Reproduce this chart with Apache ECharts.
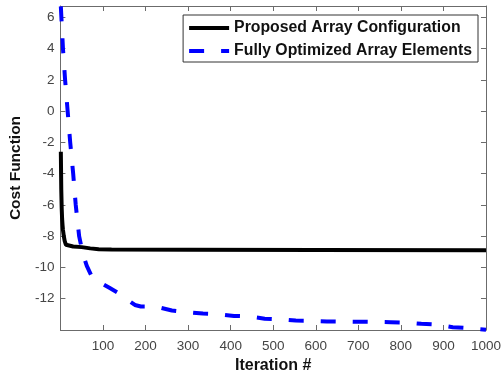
<!DOCTYPE html>
<html>
<head>
<meta charset="utf-8">
<script src="https://cdn.jsdelivr.net/npm/echarts@6/dist/echarts.min.js"></script>
<style>
  html, body { margin: 0; padding: 0; background: #fff; }
  #chart { width: 504px; height: 379px; }
</style>
</head>
<body>
<div id="chart"></div>
<script>
// iteration / cost pairs
var propIter = [1, 2, 3, 4, 5, 6, 8, 10, 13, 16, 30, 50, 70, 90, 120, 300, 600, 1000];
var propCost = [-2.6, -5.0, -6.2, -6.9, -7.3, -7.6, -8.0, -8.3, -8.55, -8.62, -8.66, -8.7, -8.78, -8.83, -8.85, -8.86, -8.88, -8.9];

var fullIter = [1, 6, 11, 17, 23, 30, 36, 44, 51, 56, 62, 74, 93, 99, 115, 134, 154, 175, 189, 224, 262, 296, 335, 369, 408, 443, 480, 517, 553, 590, 626, 662, 701, 733, 776, 810, 848, 883, 922, 957, 1000];
var fullCost = [6.7, 4.0, 2.0, 0, -2, -4, -6, -8, -8.9, -9.4, -9.9, -10.6, -11.0, -11.05, -11.3, -11.6, -12.0, -12.4, -12.5, -12.5, -12.75, -12.85, -12.95, -12.98, -13.1, -13.13, -13.28, -13.32, -13.4, -13.42, -13.45, -13.46, -13.47, -13.48, -13.5, -13.52, -13.6, -13.65, -13.82, -13.88, -13.98];

var seriesNames = ['Proposed Array Configuration', 'Fully Optimized Array Elements'];

function pairs(xs, ys){
    var out = [];
    for(var i = 0; i < xs.length; i++){
        out.push([xs[i], ys[i]]);
    }
    return out;
}

var font = 'Liberation Sans, Arial, Helvetica, sans-serif';
var axisCol = '#6b6b6b';
var labelCol = '#444';

var chart = echarts.init(document.getElementById('chart'), null, {renderer: 'canvas'});

var option = {
  animation: false,
  backgroundColor: '#fff',
  grid: { left: 55, right: 15, top: 6, bottom: 45 },
  legend: {
    orient: 'vertical',
    right: 26,
    top: 15,
    itemWidth: 40,
    itemHeight: 14,
    itemGap: 7,
    padding: [5, 6, 3, 4],
    borderColor: '#333',
    borderWidth: 1,
    backgroundColor: '#fff',
    itemStyle: { opacity: 0 },
    lineStyle: { width: 4 },
    textStyle: { fontFamily: font, fontWeight: 'bold', fontSize: 15.8, color: '#111' },
    data: seriesNames
  },
  xAxis: [
    {
      type: 'value', min: 0, max: 1000, interval: 100,
      name: 'Iteration #', nameLocation: 'middle', nameGap: 28,
      nameTextStyle: { fontFamily: font, fontWeight: 'bold', fontSize: 16, color: '#111' },
      axisLine: { onZero: false, lineStyle: { color: axisCol, width: 1 } },
      axisTick: { inside: true, length: 5, lineStyle: { color: axisCol } },
      axisLabel: { showMinLabel: false, margin: 9, fontFamily: font, fontSize: 13.5, color: labelCol,
                   formatter: function(v){ return String(v); } },
      splitLine: { show: false }
    },
    {
      type: 'value', min: 0, max: 1000, interval: 100, position: 'top',
      axisLine: { onZero: false, lineStyle: { color: axisCol, width: 1 } },
      axisTick: { inside: true, length: 5, lineStyle: { color: axisCol } },
      axisLabel: { show: false },
      splitLine: { show: false }
    }
  ],
  yAxis: [
    {
      type: 'value', min: -14, max: 6.72, interval: 2,
      name: 'Cost Function', nameLocation: 'middle', nameGap: 28,
      nameTextStyle: { fontFamily: font, fontWeight: 'bold', fontSize: 15.5, color: '#111' },
      axisLine: { onZero: false, lineStyle: { color: axisCol, width: 1 } },
      axisTick: { inside: true, length: 5, lineStyle: { color: axisCol } },
      axisLabel: { showMinLabel: false, showMaxLabel: false, margin: 6, fontFamily: font, fontSize: 13.5, color: labelCol },
      splitLine: { show: false }
    },
    {
      type: 'value', min: -14, max: 6.72, interval: 2, position: 'right',
      axisLine: { show: true, onZero: false, lineStyle: { color: axisCol, width: 1 } },
      axisTick: { show: true, inside: true, length: 5, lineStyle: { color: axisCol } },
      axisLabel: { show: false },
      splitLine: { show: false }
    }
  ],
  series: [
    {
      name: seriesNames[0],
      type: 'line',
      showSymbol: false,
      symbol: 'none',
      clip: true,
      lineStyle: { color: '#000', width: 4 },
      itemStyle: { color: '#000' },
      data: pairs(propIter, propCost)
    },
    {
      name: seriesNames[1],
      type: 'line',
      showSymbol: false,
      symbol: 'none',
      clip: true,
      lineStyle: { color: '#0000ff', width: 4, type: [15, 17] },
      itemStyle: { color: '#0000ff' },
      data: pairs(fullIter, fullCost)
    }
  ]
};

chart.setOption(option);
</script>
</body>
</html>
